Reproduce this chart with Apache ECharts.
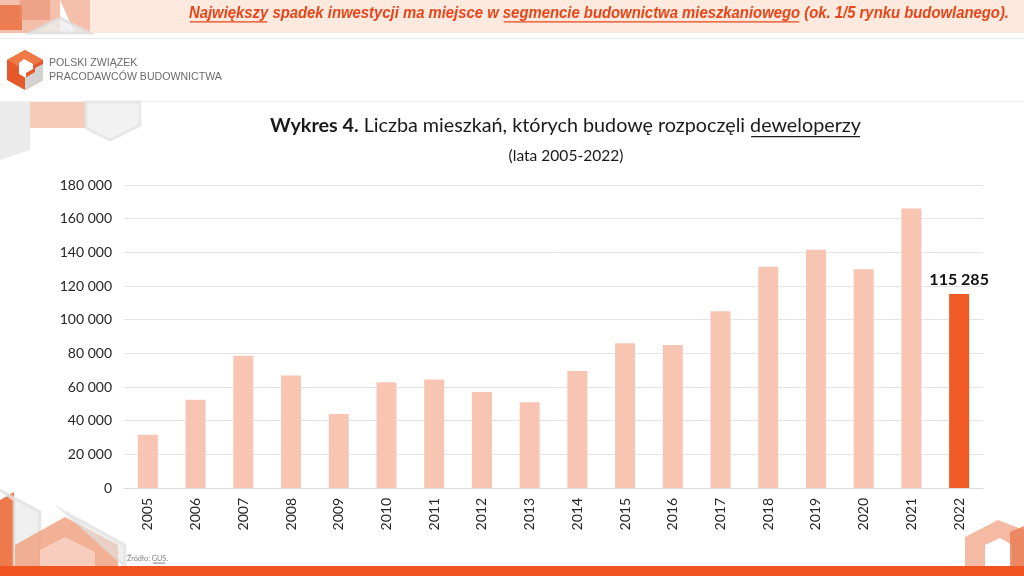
<!DOCTYPE html>
<html>
<head>
<meta charset="utf-8">
<script src="https://cdn.jsdelivr.net/npm/echarts@6/dist/echarts.min.js"></script>
<style>
    html, body { margin: 0; padding: 0; background: #ffffff; }
    #chart { width: 1024px; height: 576px; }
</style>
</head>
<body>
<div id="chart"></div>
<script>
const years = ["2005", "2006", "2007", "2008", "2009", "2010", "2011", "2012", "2013",
    "2014", "2015", "2016", "2017", "2018", "2019", "2020", "2021", "2022"];
const flatsStarted = [31600, 52500, 78500, 66900, 44000, 62800, 64500, 57000, 51000,
    69500, 86000, 85000, 105000, 131500, 141500, 130000, 166000, 115285];

const headerParts = [
    { text: "Największy", underline: true },
    { text: " spadek inwestycji ma miejsce w ", underline: false },
    { text: "segmencie budownictwa mieszkaniowego", underline: true },
    { text: " (ok. 1/5 rynku budowlanego).", underline: false }
];
const titleBold = "Wykres 4.";
const titleMain = " Liczba mieszkań, których budowę rozpoczęli ";
const titleUnderlined = "deweloperzy";
const subtitle = "(lata 2005-2022)";
const logoLines = ["POLSKI ZWIĄZEK", "PRACODAWCÓW BUDOWNICTWA"];
const sourceLabel = "Źródło: ";
const sourceName = "GUS";

const LIGHT = "#f8c5b3";
const STRONG = "#f05a24";
const BODY_FONT = "Lato";

const measureCtx = document.createElement("canvas").getContext("2d");

function measure(text, size, family, weight, style) {
    measureCtx.font = `${style || "normal"} ${weight || "normal"} ${size}px ${family}`;
    return measureCtx.measureText(text).width;
}

function formatThousands(value) {
    return String(value).replace(/\B(?=(\d{3})+(?!\d))/g, " ");
}

function runWidth(parts, size, family, opts) {
    let total = 0;
    parts.forEach(p => {
        total += measure(p.text, size, family, p.weight || opts.weight, opts.style);
    });
    return total;
}

// text runs laid out left to right, scaled to fill a given width
function textRun(parts, x, y, targetWidth, family, color, opts) {
    const size = opts.size || 20 * targetWidth / runWidth(parts, 20, family, opts);
    const elements = [];
    let cx = x;
    parts.forEach(p => {
        const w = measure(p.text, size, family, p.weight || opts.weight, opts.style);
        elements.push({
            type: "text",
            x: cx,
            y: y,
            z: 10,
            style: {
                text: p.text,
                fontSize: size,
                fontFamily: family,
                fontWeight: p.weight || opts.weight || "normal",
                fontStyle: opts.style || "normal",
                fill: color,
                verticalAlign: "middle"
            }
        });
        if (p.underline) {
            elements.push({
                type: "rect",
                z: 10,
                shape: { x: cx + 1, y: y + size * 0.5, width: w - 2, height: Math.max(1, size * 0.07) },
                style: { fill: color }
            });
        }
        cx += w;
    });
    return elements;
}

function poly(points, fill, opacity, stroke) {
    return {
        type: "polygon",
        z: -5,
        shape: { points: points },
        style: { fill: fill, opacity: opacity, stroke: stroke || null, lineWidth: stroke ? 3 : 0 }
    };
}

const decorations = [
    // header band
    { type: "rect", z: -6, shape: { x: 90, y: 0, width: 934, height: 33 }, style: { fill: "#fde9dd" } },
    { type: "rect", z: -6, shape: { x: 0, y: 38, width: 1024, height: 1 }, style: { fill: "#e9e9e9" } },
    { type: "rect", z: -6, shape: { x: 0, y: 101, width: 1024, height: 1 }, style: { fill: "#eeeeee" } },
    // top-left shapes
    poly([[0, 0], [60, 0], [60, 33], [0, 33]], "#f3b9a2", 0.9),
    poly([[0, 5], [22, 5], [22, 30], [0, 30]], "#ea6a3c", 0.8),
    poly([[20, 0], [50, 0], [50, 20], [20, 20]], "#e98f6e", 0.6),
    poly([[60, 0], [90, 0], [90, 33], [75, 33]], "#f0a588", 0.7),
    poly([[30, 33], [60, 18], [90, 33]], "#eeeeee", 0.8, "#dddddd"),
    poly([[30, 102], [86, 102], [86, 128], [30, 128]], "#f3c2ad", 0.85),
    poly([[0, 102], [30, 102], [30, 150], [0, 160]], "#e6e6e6", 0.8),
    poly([[86, 102], [140, 102], [140, 125], [110, 140], [86, 128]], "#efefef", 0.8, "#e3e3e3"),
    // bottom-left shapes
    poly([[0, 500], [14, 492], [14, 566], [0, 566]], "#ec6a3a", 0.9),
    poly([[0, 490], [40, 512], [40, 566], [14, 566], [14, 500]], "#e8e8e8", 0.7, "#dedede"),
    poly([[15, 545], [65, 517], [118, 545], [118, 566], [15, 566]], "#f0a283", 0.85),
    poly([[40, 550], [65, 537], [95, 552], [95, 566], [40, 566]], "#f7d2c2", 0.9),
    poly([[65, 512], [125, 545], [125, 566]], "#e5e5e5", 0.6, "#dcdcdc"),
    // bottom-right shape
    poly([[965, 537], [998, 520], [1024, 530], [1024, 566], [965, 566]], "#f2ae94", 0.85),
    poly([[985, 545], [1000, 538], [1012, 545], [1012, 566], [985, 566]], "#ffffff", 1),
    poly([[1010, 532], [1024, 526], [1024, 566], [1010, 566]], "#ea7b52", 0.8),
    // bottom bar
    { type: "rect", z: -4, shape: { x: 0, y: 566, width: 1024, height: 10 }, style: { fill: "#f0541f" } },
    // logo
    poly([[25, 50], [43, 60], [43, 80], [25, 90], [7, 80], [7, 60]], "#e5582a", 1),
    poly([[25, 50], [43, 60], [25, 70], [7, 60]], "#ef7a45", 1),
    poly([[43, 64], [43, 80], [25, 90], [25, 78], [35, 72], [35, 68]], "#d2d2d2", 1),
    poly([[24, 59], [33, 64], [33, 69], [26, 73], [26, 78], [19, 74], [19, 63]], "#ffffff", 1)
];

const logoSize = 11.5 * 173 / measure(logoLines[1], 11.5, "Liberation Sans");
const logoText = logoLines.map((line, i) => ({
    type: "text",
    x: 49,
    y: 63 + i * 14,
    z: 10,
    style: {
        text: line,
        fontSize: logoSize,
        fontFamily: "Liberation Sans",
        fill: "#6b6b6b",
        verticalAlign: "middle"
    }
}));

// header: narrow bold italic, squeezed horizontally to its width
const headerOpts = { weight: "bold", style: "italic", size: 16.5 };
const headerSqueeze = 820 / runWidth(headerParts, 16.5, "Liberation Sans", headerOpts);
const header = {
    type: "group",
    x: 189,
    y: 13,
    scaleX: headerSqueeze,
    children: textRun(headerParts, 0, 0, 0, "Liberation Sans", "#e8461a", headerOpts)
};

const title = textRun([
    { text: titleBold, weight: "bold" },
    { text: titleMain },
    { text: titleUnderlined, underline: true }
], 270, 126, 591, BODY_FONT, "#1a1a1a", {});

const subtitleSize = 15 * 115 / measure(subtitle, 15, BODY_FONT);
const subtitleText = {
    type: "text",
    x: 566,
    y: 156,
    z: 10,
    style: {
        text: subtitle,
        fontSize: subtitleSize,
        fontFamily: BODY_FONT,
        fill: "#1a1a1a",
        align: "center",
        verticalAlign: "middle"
    }
};

const source = textRun([
    { text: sourceLabel },
    { text: sourceName, underline: true },
    { text: "." }
], 127, 559, 41, BODY_FONT, "#7f7f7f", {});

const chart = echarts.init(document.getElementById("chart"));

chart.setOption({
    animation: false,
    backgroundColor: "#ffffff",
    textStyle: { fontFamily: BODY_FONT },
    grid: {
        left: 124,
        right: 41,
        top: 185,
        bottom: 88
    },
    xAxis: {
        type: "category",
        data: years,
        axisTick: { show: false },
        axisLine: { lineStyle: { color: "#d9d9d9" } },
        axisLabel: {
            interval: 0,
            rotate: 90,
            margin: 10,
            color: "#262626",
            fontSize: 14,
            fontFamily: BODY_FONT
        }
    },
    yAxis: {
        type: "value",
        min: 0,
        max: 180000,
        interval: 20000,
        axisLine: { show: false },
        axisTick: { show: false },
        splitLine: { lineStyle: { color: "#e4e4e4" } },
        axisLabel: {
            margin: 12,
            color: "#262626",
            fontSize: 14,
            fontFamily: BODY_FONT,
            formatter: value => formatThousands(value)
        }
    },
    series: [
        {
            type: "bar",
            barWidth: 20,
            data: flatsStarted.map((value, i) => ({
                value: value,
                itemStyle: { color: i === flatsStarted.length - 1 ? STRONG : LIGHT },
                label: {
                    show: i === flatsStarted.length - 1,
                    position: "top",
                    distance: 6,
                    color: "#111111",
                    fontSize: 16,
                    fontWeight: "bold",
                    fontFamily: BODY_FONT,
                    formatter: params => formatThousands(params.value)
                }
            }))
        }
    ],
    graphic: {
        elements: decorations.concat(logoText, [header], title, [subtitleText], source)
    }
});
</script>
</body>
</html>
